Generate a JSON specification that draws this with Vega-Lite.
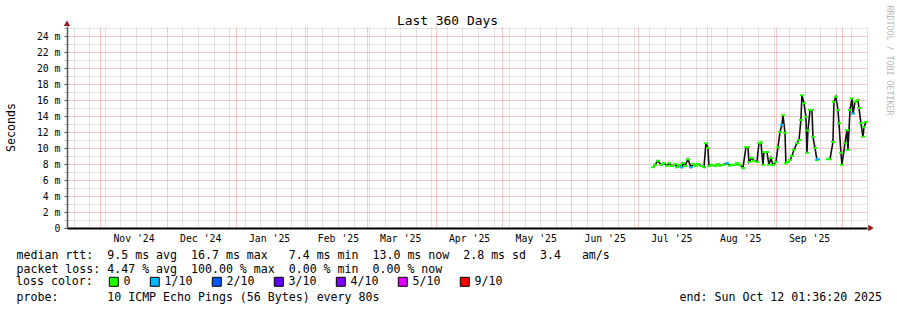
{
  "$schema": "https://vega.github.io/schema/vega-lite/v6.json",
  "width": 800,
  "height": 202,
  "autosize": {"type": "none"},
  "padding": {"left": 67, "top": 26, "right": 30, "bottom": 82},
  "background": "white",
  "config": {
    "view": {"stroke": null},
    "font": "DejaVu Sans Mono",
    "axis": {"labelFont": "DejaVu Sans Mono", "titleFont": "DejaVu Sans Mono", "titleFontWeight": "normal", "labelColor": "#000", "titleColor": "#000"},
    "legend": {"labelFont": "DejaVu Sans Mono", "titleFont": "DejaVu Sans Mono"}
  },
  "data": {"values": [
    {"t": "2025-07-07T18:00:00Z", "med": 7.6, "loss": "0", "seg": 1},
    {"t": "2025-07-08T16:00:00Z", "med": 7.9, "loss": "0", "seg": 1},
    {"t": "2025-07-10T00:00:00Z", "med": 8.4, "loss": "0", "seg": 1},
    {"t": "2025-07-11T08:00:00Z", "med": 7.9, "loss": "0", "seg": 1},
    {"t": "2025-07-12T17:00:00Z", "med": 8.1, "loss": "0", "seg": 1},
    {"t": "2025-07-14T01:00:00Z", "med": 7.75, "loss": "0", "seg": 1},
    {"t": "2025-07-14T23:00:00Z", "med": 8.1, "loss": "0", "seg": 1},
    {"t": "2025-07-16T07:00:00Z", "med": 7.75, "loss": "0", "seg": 1},
    {"t": "2025-07-17T16:00:00Z", "med": 8.0, "loss": "0", "seg": 1},
    {"t": "2025-07-18T13:00:00Z", "med": 7.6, "loss": "0", "seg": 1},
    {"t": "2025-07-19T22:00:00Z", "med": 7.9, "loss": "0", "seg": 1},
    {"t": "2025-07-20T17:00:00Z", "med": 7.6, "loss": "1/10", "seg": 1},
    {"t": "2025-07-21T06:00:00Z", "med": 8.1, "loss": "0", "seg": 1},
    {"t": "2025-07-22T04:00:00Z", "med": 7.75, "loss": "0", "seg": 1},
    {"t": "2025-07-23T12:00:00Z", "med": 8.6, "loss": "0", "seg": 1},
    {"t": "2025-07-24T20:00:00Z", "med": 7.6, "loss": "1/10", "seg": 1},
    {"t": "2025-07-25T18:00:00Z", "med": 8.0, "loss": "0", "seg": 1},
    {"t": "2025-07-27T02:00:00Z", "med": 7.75, "loss": "0", "seg": 1},
    {"t": "2025-07-28T00:00:00Z", "med": 8.0, "loss": "0", "seg": 1},
    {"t": "2025-07-29T19:00:00Z", "med": 7.75, "loss": "0", "seg": 1},
    {"t": "2025-07-30T17:00:00Z", "med": 7.6, "loss": "0", "seg": 1},
    {"t": "2025-07-31T14:00:00Z", "med": 10.6, "loss": "0", "seg": 1},
    {"t": "2025-08-01T12:00:00Z", "med": 10.0, "loss": "0", "seg": 1},
    {"t": "2025-08-01T23:00:00Z", "med": 7.75, "loss": "0", "seg": 1},
    {"t": "2025-08-03T07:00:00Z", "med": 7.9, "loss": "0", "seg": 1},
    {"t": "2025-08-04T16:00:00Z", "med": 7.75, "loss": "0", "seg": 1},
    {"t": "2025-08-06T00:00:00Z", "med": 8.0, "loss": "0", "seg": 1},
    {"t": "2025-08-06T22:00:00Z", "med": 7.8, "loss": "0", "seg": 1},
    {"t": "2025-08-08T06:00:00Z", "med": 7.9, "loss": "0", "seg": 1},
    {"t": "2025-08-10T01:00:00Z", "med": 8.1, "loss": "1/10", "seg": 1},
    {"t": "2025-08-11T10:00:00Z", "med": 7.8, "loss": "0", "seg": 1},
    {"t": "2025-08-12T07:00:00Z", "med": 7.9, "loss": "0", "seg": 1},
    {"t": "2025-08-13T16:00:00Z", "med": 7.9, "loss": "0", "seg": 1},
    {"t": "2025-08-14T13:00:00Z", "med": 8.1, "loss": "0", "seg": 1},
    {"t": "2025-08-15T22:00:00Z", "med": 7.9, "loss": "0", "seg": 1},
    {"t": "2025-08-17T06:00:00Z", "med": 7.5, "loss": "0", "seg": 1},
    {"t": "2025-08-18T14:00:00Z", "med": 10.1, "loss": "0", "seg": 1},
    {"t": "2025-08-19T12:00:00Z", "med": 10.1, "loss": "0", "seg": 1},
    {"t": "2025-08-19T23:00:00Z", "med": 8.25, "loss": "0", "seg": 1},
    {"t": "2025-08-21T07:00:00Z", "med": 8.75, "loss": "0", "seg": 1},
    {"t": "2025-08-22T05:00:00Z", "med": 8.4, "loss": "0", "seg": 1},
    {"t": "2025-08-23T13:00:00Z", "med": 8.25, "loss": "0", "seg": 1},
    {"t": "2025-08-24T11:00:00Z", "med": 10.6, "loss": "0", "seg": 1},
    {"t": "2025-08-25T08:00:00Z", "med": 10.7, "loss": "0", "seg": 1},
    {"t": "2025-08-26T06:00:00Z", "med": 7.9, "loss": "0", "seg": 1},
    {"t": "2025-08-26T17:00:00Z", "med": 9.5, "loss": "0", "seg": 1},
    {"t": "2025-08-28T01:00:00Z", "med": 9.5, "loss": "0", "seg": 1},
    {"t": "2025-08-28T23:00:00Z", "med": 7.9, "loss": "0", "seg": 1},
    {"t": "2025-08-29T20:00:00Z", "med": 8.75, "loss": "0", "seg": 1},
    {"t": "2025-08-30T18:00:00Z", "med": 7.9, "loss": "0", "seg": 1},
    {"t": "2025-09-01T02:00:00Z", "med": 8.25, "loss": "0", "seg": 1},
    {"t": "2025-09-02T00:00:00Z", "med": 10.1, "loss": "0", "seg": 1},
    {"t": "2025-09-02T22:00:00Z", "med": 12.0, "loss": "0", "seg": 1},
    {"t": "2025-09-03T19:00:00Z", "med": 12.9, "loss": "1/10", "seg": 1},
    {"t": "2025-09-04T06:00:00Z", "med": 14.1, "loss": "0", "seg": 1},
    {"t": "2025-09-05T04:00:00Z", "med": 11.9, "loss": "0", "seg": 1},
    {"t": "2025-09-05T14:00:00Z", "med": 8.1, "loss": "0", "seg": 1},
    {"t": "2025-09-06T12:00:00Z", "med": 8.25, "loss": "0", "seg": 1},
    {"t": "2025-09-07T10:00:00Z", "med": 8.5, "loss": "0", "seg": 1},
    {"t": "2025-09-08T07:00:00Z", "med": 9.0, "loss": "0", "seg": 1},
    {"t": "2025-09-09T05:00:00Z", "med": 9.75, "loss": "0", "seg": 1},
    {"t": "2025-09-10T13:00:00Z", "med": 10.6, "loss": "0", "seg": 1},
    {"t": "2025-09-11T11:00:00Z", "med": 11.0, "loss": "0", "seg": 1},
    {"t": "2025-09-12T08:00:00Z", "med": 13.5, "loss": "0", "seg": 1},
    {"t": "2025-09-12T19:00:00Z", "med": 16.6, "loss": "0", "seg": 1},
    {"t": "2025-09-13T17:00:00Z", "med": 15.6, "loss": "0", "seg": 1},
    {"t": "2025-09-14T14:00:00Z", "med": 13.9, "loss": "0", "seg": 1},
    {"t": "2025-09-15T01:00:00Z", "med": 9.4, "loss": "0", "seg": 1},
    {"t": "2025-09-15T12:00:00Z", "med": 12.2, "loss": "0", "seg": 1},
    {"t": "2025-09-16T10:00:00Z", "med": 14.75, "loss": "0", "seg": 1},
    {"t": "2025-09-17T07:00:00Z", "med": 14.75, "loss": "0", "seg": 1},
    {"t": "2025-09-17T18:00:00Z", "med": 11.4, "loss": "0", "seg": 1},
    {"t": "2025-09-18T16:00:00Z", "med": 10.0, "loss": "0", "seg": 1},
    {"t": "2025-09-19T13:00:00Z", "med": 8.5, "loss": "0", "seg": 1},
    {"t": "2025-09-20T00:00:00Z", "med": 8.6, "loss": "1/10", "seg": 1},
    {"t": "2025-09-24T12:00:00Z", "med": 8.6, "loss": "0", "seg": 2},
    {"t": "2025-09-25T10:00:00Z", "med": 8.6, "loss": "0", "seg": 2},
    {"t": "2025-09-26T18:00:00Z", "med": 10.75, "loss": "0", "seg": 2},
    {"t": "2025-09-27T05:00:00Z", "med": 15.75, "loss": "0", "seg": 2},
    {"t": "2025-09-28T02:00:00Z", "med": 16.4, "loss": "0", "seg": 2},
    {"t": "2025-09-29T00:00:00Z", "med": 14.75, "loss": "0", "seg": 2},
    {"t": "2025-09-29T11:00:00Z", "med": 13.1, "loss": "0", "seg": 2},
    {"t": "2025-09-30T08:00:00Z", "med": 9.4, "loss": "0", "seg": 2},
    {"t": "2025-09-30T19:00:00Z", "med": 7.9, "loss": "0", "seg": 2},
    {"t": "2025-10-02T04:00:00Z", "med": 10.6, "loss": "0", "seg": 2},
    {"t": "2025-10-03T01:00:00Z", "med": 12.25, "loss": "0", "seg": 2},
    {"t": "2025-10-03T12:00:00Z", "med": 9.75, "loss": "0", "seg": 2},
    {"t": "2025-10-04T10:00:00Z", "med": 14.75, "loss": "0", "seg": 2},
    {"t": "2025-10-05T07:00:00Z", "med": 16.2, "loss": "0", "seg": 2},
    {"t": "2025-10-05T18:00:00Z", "med": 14.3, "loss": "1/10", "seg": 2},
    {"t": "2025-10-06T16:00:00Z", "med": 15.75, "loss": "0", "seg": 2},
    {"t": "2025-10-08T00:00:00Z", "med": 16.0, "loss": "0", "seg": 2},
    {"t": "2025-10-08T11:00:00Z", "med": 15.0, "loss": "0", "seg": 2},
    {"t": "2025-10-09T08:00:00Z", "med": 13.1, "loss": "0", "seg": 2},
    {"t": "2025-10-10T06:00:00Z", "med": 11.4, "loss": "0", "seg": 2},
    {"t": "2025-10-10T17:00:00Z", "med": 12.6, "loss": "0", "seg": 2},
    {"t": "2025-10-11T14:00:00Z", "med": 13.25, "loss": "0", "seg": 2}
  ]},
  "layer": [
    {
      "mark": {"type": "line", "color": "#111111", "strokeWidth": 1.6},
      "encoding": {
        "x": {"field": "t", "type": "temporal",
          "scale": {"type": "utc", "domain": [{"year": 2024, "month": 10, "date": 17, "hours": 1, "minutes": 36, "seconds": 20, "utc": true}, {"year": 2025, "month": 10, "date": 12, "hours": 1, "minutes": 36, "seconds": 20, "utc": true}]},
          "axis": {"orient": "top", "grid": true, "tickCount": {"interval": "day", "step": 1},
            "gridColor": {"condition": {"test": "utcdate(datum.value) == 1", "value": "#f09090"}, "value": "#c4c4c4"},
            "gridOpacity": {"condition": {"test": "utcdate(datum.value) == 1 || utcday(datum.value) == 0", "value": 1}, "value": 0},
            "gridDash": [1, 1], "gridWidth": 1, "labels": false, "ticks": false, "domain": false,
            "title": "Last 360 Days", "titleX": 380, "titleY": -2, "titleAlign": "center", "titleBaseline": "alphabetic", "titleFontSize": 12.9, "titleFontWeight": "normal", "titleColor": "#000"}},
        "y": {"field": "med", "type": "quantitative", "scale": {"domain": [0, 25.25], "nice": false, "zero": false},
          "axis": {"orient": "left", "values": [0, 1, 2, 3, 4, 5, 6, 7, 8, 9, 10, 11, 12, 13, 14, 15, 16, 17, 18, 19, 20, 21, 22, 23, 24, 25],
            "grid": true, "gridDash": [1, 1],
            "gridColor": {"condition": {"test": "datum.value % 2 == 0", "value": "#f09090"}, "value": "#c4c4c4"},
            "labelExpr": "datum.value % 2 == 0 ? (datum.value == 0 ? '0' : datum.value + ' m') : ''", "labelFontSize": 9.8, "labelPadding": 4, "labelColor": "#000",
            "ticks": true, "tickSize": 3,
            "tickColor": {"condition": {"test": "datum.value % 2 == 0", "value": "#555555"}, "value": "#aaaaaa"},
            "domain": true, "domainColor": "#555555", "domainWidth": 1.5,
            "title": "Seconds", "titleX": -56, "titleFontSize": 11.6, "titleBaseline": "middle", "titleFontWeight": "normal", "titleColor": "#000"}},
        "detail": {"field": "seg", "type": "nominal"}
      }
    },
    {
      "mark": {"type": "tick", "orient": "horizontal", "size": 4, "thickness": 2, "opacity": 1},
      "encoding": {
        "x": {"field": "t", "type": "temporal",
          "scale": {"type": "utc", "domain": [{"year": 2024, "month": 10, "date": 17, "hours": 1, "minutes": 36, "seconds": 20, "utc": true}, {"year": 2025, "month": 10, "date": 12, "hours": 1, "minutes": 36, "seconds": 20, "utc": true}]},
          "axis": {"orient": "bottom", "grid": false, "labels": false, "ticks": false, "domain": false,
            "title": ["median\u00a0rtt:\u00a0\u00a09.5\u00a0ms\u00a0avg\u00a0\u00a016.7\u00a0ms\u00a0max\u00a0\u00a0\u00a07.4\u00a0ms\u00a0min\u00a0\u00a013.0\u00a0ms\u00a0now\u00a0\u00a02.8\u00a0ms\u00a0sd\u00a0\u00a03.4\u00a0\u00a0\u00a0am/s",
                      "packet\u00a0loss:\u00a04.47\u00a0%\u00a0avg\u00a0\u00a0100.00\u00a0%\u00a0max\u00a0\u00a00.00\u00a0%\u00a0min\u00a0\u00a00.00\u00a0%\u00a0now"],
            "titleX": -51, "titleY": 30, "titleAlign": "left", "titleAnchor": "start", "titleBaseline": "alphabetic", "titleLineHeight": 14, "titleFontSize": 11.6, "titleFontWeight": "normal", "titleColor": "#000"}},
        "y": {"field": "med", "type": "quantitative", "scale": {"domain": [0, 25.25], "nice": false, "zero": false}, "axis": null},
        "color": {"field": "loss", "type": "nominal",
          "scale": {"domain": ["0", "1/10", "2/10", "3/10", "4/10", "5/10", "9/10"], "range": ["#20ff00", "#00b8ff", "#0059ff", "#5e00ff", "#7e00ff", "#dd00ff", "#ff0000"]},
          "legend": {"orient": "none", "legendX": -51, "legendY": 250, "direction": "horizontal", "title": "loss color:", "titleOrient": "left", "titleFontSize": 11.6, "titleFontWeight": "normal", "titleColor": "#000", "titlePadding": 15, "titleBaseline": "middle", "titleAnchor": "middle",
            "labelFontSize": 11.6, "labelColor": "#000", "labelOffset": 4, "columnPadding": 17, "gridAlign": "none", "symbolType": "square", "symbolSize": 81, "padding": 0,
            "symbolStrokeColor": "#000", "symbolStrokeWidth": 1, "symbolOpacity": 1}}
      }
    },
    {
      "data": {"values": [{}]},
      "mark": {"type": "point", "shape": "triangle-up", "filled": true, "color": "#8b1a1a", "size": 40, "opacity": 1},
      "encoding": {
        "x": {"datum": {"year": 2024, "month": 10, "date": 17, "hours": 1, "minutes": 36, "seconds": 20, "utc": true}, "type": "temporal",
          "scale": {"type": "utc", "domain": [{"year": 2024, "month": 10, "date": 17, "hours": 1, "minutes": 36, "seconds": 20, "utc": true}, {"year": 2025, "month": 10, "date": 12, "hours": 1, "minutes": 36, "seconds": 20, "utc": true}]},
          "axis": {"orient": "bottom", "grid": false, "ticks": false, "tickSize": 0, "labelPadding": 5, "labelFontSize": 9.8, "labelColor": "#000", "labelFlush": false, "labelOverlap": false,
            "values": [
              {"year": 2024, "month": 11, "date": 16, "utc": true},
              {"year": 2024, "month": 12, "date": 16, "utc": true},
              {"year": 2025, "month": 1, "date": 16, "utc": true},
              {"year": 2025, "month": 2, "date": 16, "utc": true},
              {"year": 2025, "month": 3, "date": 16, "utc": true},
              {"year": 2025, "month": 4, "date": 16, "utc": true},
              {"year": 2025, "month": 5, "date": 16, "utc": true},
              {"year": 2025, "month": 6, "date": 16, "utc": true},
              {"year": 2025, "month": 7, "date": 16, "utc": true},
              {"year": 2025, "month": 8, "date": 16, "utc": true},
              {"year": 2025, "month": 9, "date": 16, "utc": true}],
            "labelExpr": "utcFormat(datum.value, \"%b '%y\")",
            "domain": true, "domainColor": "#000", "domainWidth": 2,
            "title": "probe:\u00a0\u00a0\u00a0\u00a0\u00a0\u00a0\u00a010\u00a0ICMP\u00a0Echo\u00a0Pings\u00a0(56\u00a0Bytes)\u00a0every\u00a080s\u00a0\u00a0\u00a0\u00a0\u00a0\u00a0\u00a0\u00a0\u00a0\u00a0\u00a0\u00a0\u00a0\u00a0\u00a0\u00a0\u00a0\u00a0\u00a0\u00a0\u00a0\u00a0\u00a0\u00a0\u00a0\u00a0\u00a0\u00a0\u00a0\u00a0\u00a0\u00a0\u00a0\u00a0\u00a0\u00a0\u00a0\u00a0\u00a0\u00a0\u00a0\u00a0\u00a0end:\u00a0Sun\u00a0Oct\u00a012\u00a001:36:20\u00a02025",
            "titleX": -51, "titleY": 72, "titleAlign": "left", "titleAnchor": "start", "titleBaseline": "alphabetic", "titleFontSize": 11.6, "titleFontWeight": "normal", "titleColor": "#000"}},
        "y": {"datum": 25.6, "type": "quantitative", "scale": {"domain": [0, 25.25], "nice": false, "zero": false},
          "axis": {"orient": "right", "labels": false, "ticks": false, "domain": false, "grid": false,
            "title": "RRDTOOL / TOBI OETIKER", "titleAngle": 90, "titleX": 21, "titleY": -21, "titleAlign": "left", "titleBaseline": "middle", "titleFontSize": 8.3, "titleFontWeight": "normal", "titleColor": "#b8b8b8"}}
      }
    },
    {
      "data": {"values": [{}]},
      "mark": {"type": "point", "shape": "triangle-right", "filled": true, "color": "#8b1a1a", "size": 40, "opacity": 1},
      "encoding": {
        "x": {"datum": {"year": 2025, "month": 10, "date": 13, "hours": 21, "utc": true}, "type": "temporal",
          "scale": {"type": "utc", "domain": [{"year": 2024, "month": 10, "date": 17, "hours": 1, "minutes": 36, "seconds": 20, "utc": true}, {"year": 2025, "month": 10, "date": 12, "hours": 1, "minutes": 36, "seconds": 20, "utc": true}]},
          "axis": null},
        "y": {"datum": 0, "type": "quantitative", "scale": {"domain": [0, 25.25], "nice": false, "zero": false}, "axis": null}
      }
    }
  ],
  "resolve": {"axis": {"x": "independent", "y": "independent"}}
}
